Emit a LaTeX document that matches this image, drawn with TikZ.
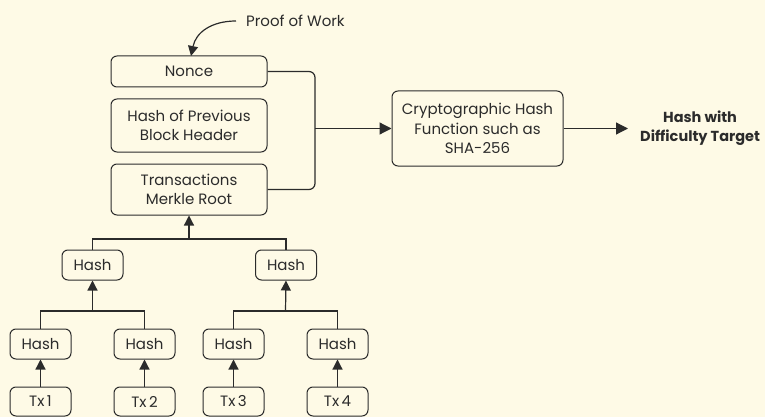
\documentclass[tikz,border=0pt]{standalone}
\usepackage{fontspec}
\setmainfont{Poppins}
\usepackage{tikz}
\usetikzlibrary{positioning, arrows.meta}
\definecolor{paper}{HTML}{FEFAE6}
\definecolor{ink}{HTML}{2B2B2B}

\begin{document}
\begin{tikzpicture}[x=1pt, y=1pt, font=\fontsize{15}{19.5}\selectfont, color=ink,
    block/.style={rectangle, draw=ink, rounded corners=6pt, line width=1pt, align=center, inner sep=2pt},
    leaf/.style={block, minimum width=61pt, minimum height=30pt},
    link/.style={line width=1.2pt},
    arrow/.style={link, -{Triangle[length=10pt, width=10pt]}},
    bigarrow/.style={link, -{Triangle[length=12pt, width=12pt]}}]
%

%%% canvas
\fill[paper] (0,0) rectangle (765,-417);
\useasboundingbox (0,0) rectangle (765,-417);

%%% BLOCK HEADER
\node [block, minimum width=156pt, minimum height=31pt] (nonce) at (189,-71.5) {Nonce};
\node [block, minimum width=156pt, minimum height=53pt, below=11pt of nonce] (prev) {Hash of Previous\\Block Header};
\node [block, minimum width=156pt, minimum height=51pt, below=11pt of prev] (merkle) {Transactions\\Merkle Root};

%%% PROOF OF WORK
\node [anchor=west, inner xsep=10pt, inner ysep=0pt] (pow) at (236,-21) {Proof of Work};

%%% HASH FUNCTION
\node [block, minimum width=171pt, minimum height=75pt] (hashfn) at (477.5,-128.5) {Cryptographic Hash\\Function such as\\SHA-256};
\node [anchor=west, inner xsep=12pt, align=center, font=\fontsize{14.5}{19}\selectfont\bfseries] (target) at (628,-128.5) {Hash with\\Difficulty Target};

%%% MERKLE TREE
\node [leaf] (h12) at (92.5,-265) {Hash};
\node [leaf] (h34) at (286,-265) {Hash};
\node [leaf] (h1) at (40.5,-344) {Hash};
\node [leaf] (h2) at (144.5,-344) {Hash};
\node [leaf] (h3) at (233.5,-344) {Hash};
\node [leaf] (h4) at (337.5,-344) {Hash};
\node [leaf, minimum height=29pt] (tx1) at (40.5,-401.5) {Tx\,1};
\node [leaf, minimum height=29pt] (tx2) at (144.5,-401.5) {Tx\,2};
\node [leaf, minimum height=29pt] (tx3) at (233.5,-401.5) {Tx\,3};
\node [leaf, minimum height=29pt] (tx4) at (337.5,-401.5) {Tx\,4};

\coordinate (join) at (315,-128.5);
\coordinate (fork-top) at (189,-239);
\coordinate (fork-a) at (92.5,-311);
\coordinate (fork-b) at (285.5,-311);

%%% connections, arrows

\draw [arrow] (pow.west) .. controls (212,-21) and (196,-32) .. (191,-56);
\draw [link, rounded corners=6pt] (nonce.east) -| (join) |- (merkle.east);
\draw [bigarrow] (join) -- (hashfn.west);
\draw [bigarrow] (hashfn.east) -- (target.west);

\draw [link] (h12.north) |- (fork-top) -| (h34.north);
\draw [arrow] (fork-top) -- (merkle.south);
\draw [link] (h1.north) |- (fork-a) -| (h2.north);
\draw [arrow] (fork-a) -- (h12.south);
\draw [link] (h3.north) |- (fork-b) -| (h4.north);
\draw [arrow] (fork-b) -- (h34.south);

\foreach \i in {1,...,4}
  \draw [arrow] (tx\i.north) -- (h\i.south);

\end{tikzpicture}
\end{document}
